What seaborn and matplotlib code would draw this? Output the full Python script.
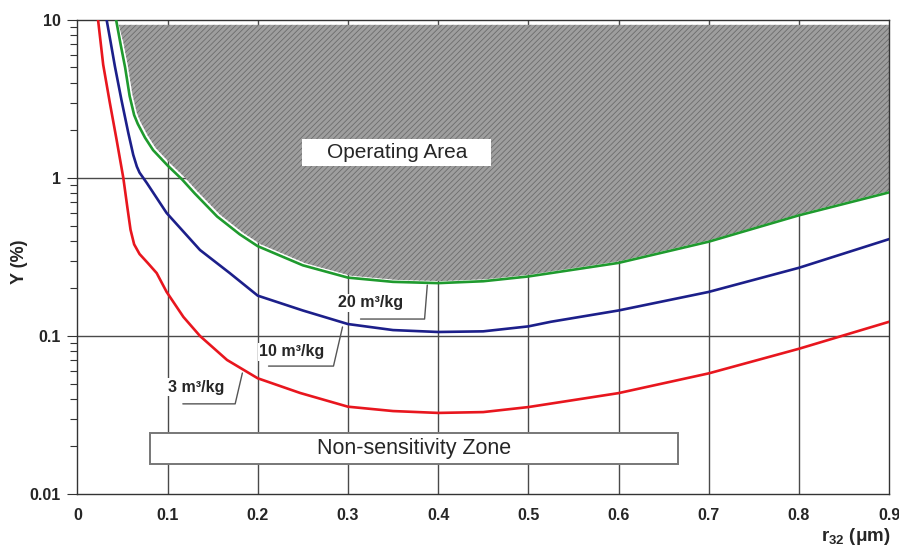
import numpy as np
import pandas as pd
import seaborn as sns
import matplotlib.pyplot as plt
from matplotlib.patches import Rectangle

# curves: r32 (um) vs Y (%)
x_20 = [0.043, 0.048, 0.053, 0.058, 0.063, 0.067, 0.075, 0.084, 0.100, 0.116, 0.130, 0.155,
        0.180, 0.200, 0.250, 0.300, 0.350, 0.400, 0.450, 0.500, 0.525, 0.600, 0.700, 0.800, 0.900]
y_20 = [10.0, 7.0, 5.0, 3.3, 2.5, 2.2, 1.8, 1.5, 1.2, 0.98, 0.80, 0.57,
        0.44, 0.37, 0.28, 0.234, 0.22, 0.216, 0.222, 0.238, 0.25, 0.29, 0.395, 0.58, 0.81]

x_10 = [0.0325, 0.037, 0.0417, 0.049, 0.0565, 0.062, 0.066, 0.069, 0.077, 0.099, 0.136, 0.169,
        0.200, 0.250, 0.300, 0.350, 0.400, 0.450, 0.500, 0.525, 0.600, 0.700, 0.800, 0.900]
y_10 = [10.0, 7.2, 5.07, 3.1, 1.93, 1.40, 1.18, 1.08, 0.93, 0.60, 0.35, 0.25,
        0.18, 0.145, 0.119, 0.109, 0.106, 0.107, 0.115, 0.123, 0.145, 0.19, 0.27, 0.41]

x_3 = [0.023, 0.0287, 0.036, 0.0435, 0.051, 0.0555, 0.059, 0.063, 0.069, 0.078, 0.088, 0.099,
       0.1176, 0.136, 0.166, 0.200, 0.247, 0.300, 0.350, 0.400, 0.450, 0.500, 0.600, 0.700,
       0.800, 0.900]
y_3 = [10.0, 5.2, 3.0, 1.75, 1.0, 0.65, 0.47, 0.38, 0.33, 0.29, 0.25, 0.19,
       0.132, 0.10, 0.0705, 0.054, 0.0436, 0.0357, 0.0335, 0.0326, 0.033, 0.0355, 0.0435,
       0.058, 0.083, 0.123]

series = ['20 m³/kg', '10 m³/kg', '3 m³/kg']
col_dict = {'20 m³/kg': '#1f9a2e', '10 m³/kg': '#1c1f8a', '3 m³/kg': '#e8161e'}

x_ticks = [0, 0.1, 0.2, 0.3, 0.4, 0.5, 0.6, 0.7, 0.8, 0.9]
x_ticklabels = ['0', '0.1', '0.2', '0.3', '0.4', '0.5', '0.6', '0.7', '0.8', '0.9']
y_ticks = [0.01, 0.1, 1, 10]
y_ticklabels = ['0.01', '0.1', '1', '10']
operating_top = 9.3

df = pd.concat([
    pd.DataFrame({'r32': x_20, 'Y': y_20, 'dose': series[0]}),
    pd.DataFrame({'r32': x_10, 'Y': y_10, 'dose': series[1]}),
    pd.DataFrame({'r32': x_3, 'Y': y_3, 'dose': series[2]}),
])

sns.set_style('white')
plt.rcParams['font.family'] = ['Liberation Sans', 'DejaVu Sans']
plt.rcParams['mathtext.fontset'] = 'custom'
plt.rcParams['mathtext.rm'] = 'Liberation Sans:bold'
plt.rcParams['mathtext.bf'] = 'Liberation Sans:bold'
plt.rcParams['hatch.linewidth'] = 0.6
plt.rcParams['hatch.color'] = '#6c6c6c'

fig, ax = plt.subplots(figsize=(8.99, 5.52), dpi=100)
fig.subplots_adjust(left=0.086, right=0.989, top=0.964, bottom=0.105)

# grid under everything
for xv in x_ticks[1:-1]:
    ax.axvline(xv, color='#4a4a4a', lw=1.0, zorder=1)
for yv in y_ticks[1:-1]:
    ax.axhline(yv, color='#4a4a4a', lw=1.0, zorder=1)

# operating area shading above the 20 m3/kg curve
gx = np.array(x_20) + 0.003
gy = np.minimum(np.array(y_20) * 1.03, operating_top)
ax.fill_between(gx, gy, operating_top, facecolor='#9e9e9e', hatch='//////',
                edgecolor='#6c6c6c', linewidth=0, zorder=2)

sns.lineplot(data=df, x='r32', y='Y', hue='dose', palette=col_dict, sort=False,
             estimator=None, legend=False, lw=1.9, ax=ax, zorder=4)

ax.set_yscale('log')
ax.set_xlim(0, 0.9)
ax.set_ylim(0.01, 10)
ax.set_xticks(x_ticks)
ax.set_xticklabels(x_ticklabels, fontsize=11.5, fontweight='bold')
ax.set_xticks(np.arange(0, 0.901, 0.02), minor=True)
ax.set_yticks(y_ticks)
ax.set_yticklabels(y_ticklabels, fontsize=11.5, fontweight='bold')
ax.tick_params(axis='x', which='major', direction='out', length=4, width=1, pad=6, color='#333')
ax.tick_params(axis='x', which='minor', direction='in', length=3, width=0.8, color='#333')
ax.tick_params(axis='y', which='both', direction='out', length=5, width=0.8, pad=5,
               color='#333', left=True)
ax.tick_params(axis='y', which='major', length=7)
for s in ax.spines.values():
    s.set_color('#333')
    s.set_linewidth(1.0)

ax.set_ylabel('Y (%)', fontsize=13, fontweight='bold')
ax.yaxis.set_label_coords(-0.061, 0.49)
ax.set_xlabel('')
fig.text(0.990, 0.028, r'r$_{\mathbf{32}}$ ($\mathbf{\mu}$m)', ha='right', va='center',
         fontsize=13.5, fontweight='bold')

# boxes
ax.add_patch(Rectangle((0.2494, 1.19), 0.2096, 0.58, facecolor='white', edgecolor='none', zorder=3))
ax.text(0.355, 1.44, 'Operating Area', ha='center', va='center', fontsize=15, zorder=5)
ax.add_patch(Rectangle((0.0803, 0.0155), 0.5856, 0.009, facecolor='white',
                       edgecolor='#777', lw=1.4, zorder=3))
ax.text(0.373, 0.0195, 'Non-sensitivity Zone', ha='center', va='center', fontsize=15.5, zorder=5)

# curve labels with leader lines
labels = [
    ('20 m³/kg', 0.3247, 0.162, [0.314, 0.385, 0.388], [0.128, 0.128, 0.21]),
    ('10 m³/kg', 0.238, 0.0793, [0.212, 0.284, 0.294], [0.0645, 0.0645, 0.114]),
    ('3 m³/kg', 0.132, 0.0475, [0.117, 0.175, 0.183], [0.0372, 0.0372, 0.0583]),
]
for txt, tx, ty, lx, ly in labels:
    ax.plot(lx, ly, color='#555', lw=1.0, zorder=3)
    ax.text(tx, ty, txt, ha='center', va='center', fontsize=11.5, fontweight='bold',
            zorder=5, bbox=dict(facecolor='white', edgecolor='none', pad=1.0))

fig.savefig('out.png', dpi=100)
